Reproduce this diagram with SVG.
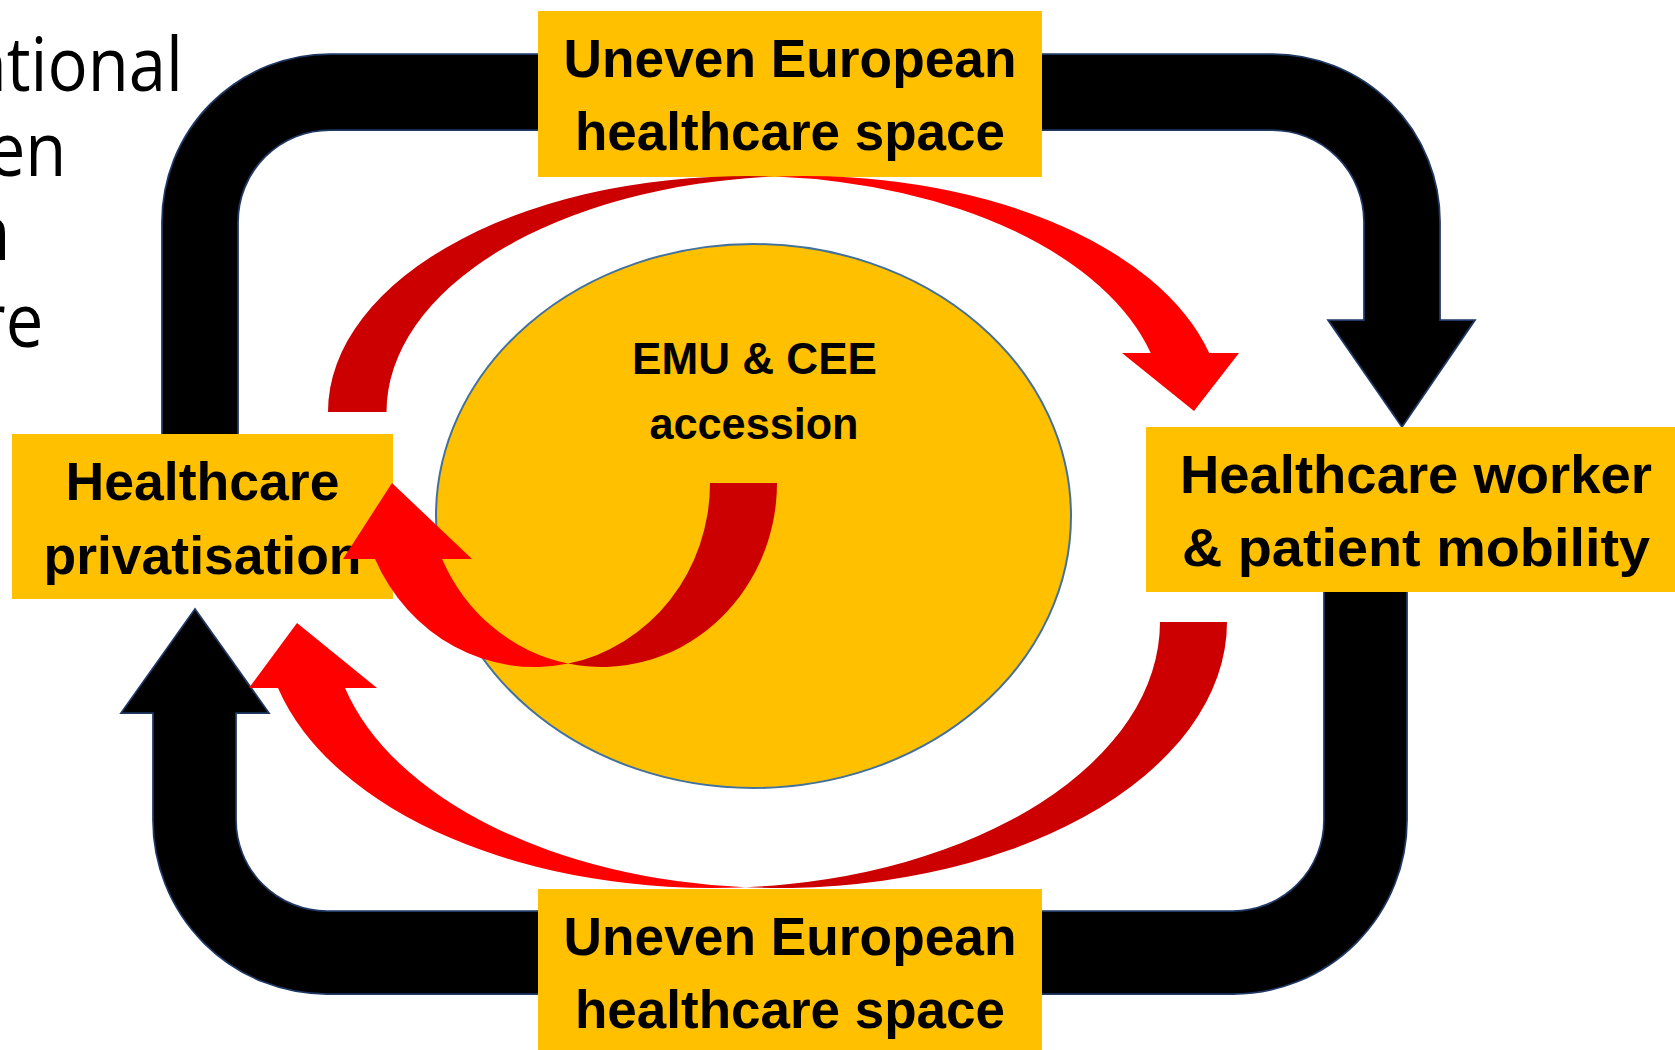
<svg xmlns="http://www.w3.org/2000/svg" width="1675" height="1050" viewBox="0 0 1675 1050">
  <style>
    .box { fill: #FFC000; }
    .lbl { font-family: "Liberation Sans", Arial, sans-serif; font-weight: bold; font-size: 53px; fill: #000; text-anchor: middle; }
    .emu { font-family: "Liberation Sans", Arial, sans-serif; font-weight: bold; font-size: 45px; fill: #000; text-anchor: middle; }
    .side { font-family: "Open Sans", "Liberation Sans", sans-serif; font-size: 75px; fill: #000; text-anchor: end; }
    .blk { fill: #000; stroke: #1F3864; stroke-width: 1.75; stroke-linejoin: miter; }
    .dark { fill: #CC0000; }
    .bright { fill: #FF0000; }
  </style>
  <rect width="1675" height="1050" fill="#fff"/>

  <g id="side-text" transform="scale(0.893 1)">
    <text class="side" x="204.9" y="91">ntional</text>
    <text class="side" x="74.4" y="176">en</text>
    <text class="side" x="11.2" y="260" font-weight="bold">n</text>
    <text class="side" x="48.5" y="347">re</text>
  </g>

  <g id="connectors">
    <path id="loop-top" class="blk" d="M162 440 L162 222 A168 168 0 0 1 330 54 L1272 54 A168 168 0 0 1 1440 222 L1440 320 L1475 320 L1402 427 L1328 320 L1364 320 L1364 222 A92 92 0 0 0 1272 130 L330 130 A92 92 0 0 0 238 222 L238 440 Z"/>
    <path id="loop-bottom" class="blk" d="M1407 585 L1407 820 A174 174 0 0 1 1233 994 L327 994 A174 174 0 0 1 153 820 L153 713 L121 713 L195 609 L269 713 L236 713 L236 820 A91 91 0 0 0 327 911 L1233 911 A91 91 0 0 0 1324 820 L1324 585 Z"/>
  </g>

  <g id="node-emu">
    <ellipse cx="753.5" cy="516" rx="317.5" ry="272" fill="#FFC000" stroke="#41719C" stroke-width="2"/>
    <text class="emu" x="754.5" y="374" textLength="245" lengthAdjust="spacingAndGlyphs">EMU &amp; CEE</text>
    <text class="emu" x="754" y="439" textLength="209" lengthAdjust="spacingAndGlyphs">accession</text>
  </g>

  <g id="node-space-top">
    <rect class="box" x="538" y="11" width="504" height="166"/>
    <text class="lbl" x="790" y="77" textLength="453" lengthAdjust="spacingAndGlyphs">Uneven European</text>
    <text class="lbl" x="790" y="150" textLength="430" lengthAdjust="spacingAndGlyphs">healthcare space</text>
  </g>

  <g id="node-space-bottom">
    <rect class="box" x="538" y="889" width="504" height="166"/>
    <text class="lbl" x="790" y="955" textLength="453" lengthAdjust="spacingAndGlyphs">Uneven European</text>
    <text class="lbl" x="790" y="1028" textLength="430" lengthAdjust="spacingAndGlyphs">healthcare space</text>
  </g>

  <g id="node-privatisation">
    <rect class="box" x="12" y="434" width="381" height="165"/>
    <text class="lbl" x="202.5" y="500" textLength="274" lengthAdjust="spacingAndGlyphs">Healthcare</text>
    <text class="lbl" x="202.5" y="574" textLength="318" lengthAdjust="spacingAndGlyphs">privatisation</text>
  </g>

  <g id="node-mobility">
    <rect class="box" x="1146" y="427" width="544" height="165"/>
    <text class="lbl" x="1416" y="493" textLength="472" lengthAdjust="spacingAndGlyphs">Healthcare worker</text>
    <text class="lbl" x="1416" y="566" textLength="468" lengthAdjust="spacingAndGlyphs">&amp; patient mobility</text>
  </g>

  <g id="connectors-red">
    <g id="red-top">
      <path class="dark" d="M328 412 A418 236 0 0 1 775.25 176.58 A418 236 0 0 0 386.5 412 Z"/>
      <path class="bright" d="M775.25 176.58 A418 236 0 0 1 1209.2 353 L1239 353 L1194 411 L1122 353 L1150.7 353 A418 236 0 0 0 775.25 176.58 Z"/>
    </g>
    <g id="red-bottom">
      <path class="dark" d="M1227 622 A448 266 0 0 1 745.5 887.26 A448 266 0 0 0 1160 622 Z"/>
      <path class="bright" d="M745.5 887.26 A448 266 0 0 1 278 688 L249 688 L297 623 L377 688 L345 688 A448 266 0 0 0 745.5 887.26 Z"/>
    </g>
    <g id="red-inner">
      <path class="dark" d="M777 483 A175.3 184 0 0 1 568.2 663.6 A175.3 184 0 0 0 710 483 Z"/>
      <path class="bright" d="M568.2 663.6 A175.3 184 0 0 1 375.05 559 L343 559 L392 483 L472 559 L442.05 559 A175.3 184 0 0 0 568.2 663.6 Z"/>
    </g>
  </g>
</svg>
